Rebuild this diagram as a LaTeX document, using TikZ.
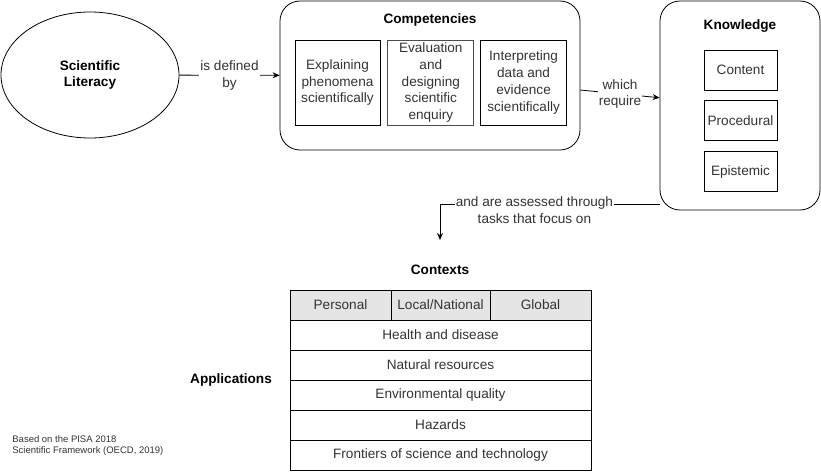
\documentclass[tikz,border=0pt]{standalone}
\usepackage{fontspec}
\setmainfont{Liberation Sans}
\usepackage{tikz}
\usetikzlibrary{arrows.meta}
\usetikzlibrary{shapes.geometric}
\usetikzlibrary{positioning}
\tikzset{
  bodyfont/.style={font=\fontsize{13.6}{16.7}\selectfont, text=black!80},
  title/.style={font=\fontsize{13.6}{16.7}\selectfont\bfseries, text=black},
  frame/.style={draw, rounded corners=20pt},
  box/.style={draw, bodyfont, align=center, inner sep=0pt},
  cell/.style={draw, bodyfont, minimum height=30pt, inner sep=0pt, outer sep=0pt},
  lbl/.style={fill=white, bodyfont, align=center, inner sep=1pt}
}

\begin{document}
\begin{tikzpicture}[x=1pt, y=-1pt,
      >={Stealth[length=7pt,width=6pt]},
      line width=0.8pt,
      node distance=10pt]

    \useasboundingbox (0,0) rectangle (821,471);

    % top row
    \node[draw, ellipse, minimum width=178pt, minimum height=126pt, title, align=center]
      (Literacy) at (90,75) {Scientific\\Literacy};

    \node[frame, minimum width=300pt, minimum height=149pt]
      (Competencies) at (430,75.5) {};
    \node[title]
      (CompTitle) at (430,20) {Competencies};
    \node[box, minimum width=85pt, minimum height=85pt]
      (Explaining) at (337.5,82.5) {Explaining\\phenomena\\scientifically};
    \node[box, draw=black!70, minimum width=86pt, minimum height=85pt]
      (Evaluation) [right=7pt of Explaining] {Evaluation\\and\\designing\\scientific\\enquiry};
    \node[box, minimum width=86pt, minimum height=85pt]
      (Interpreting) [right=6pt of Evaluation] {Interpreting\\data and\\evidence\\scientifically};

    \node[frame, minimum width=160pt, minimum height=209pt]
      (Knowledge) at (740,105.5) {};
    \node[title]
      (KnowTitle) at (740,26) {Knowledge};
    \node[box, minimum width=73pt, minimum height=40pt]
      (Content) at (740.5,70) {Content};
    \node[box, minimum width=73pt, minimum height=40pt]
      (Procedural) [below=of Content] {Procedural};
    \node[box, minimum width=73pt, minimum height=40pt]
      (Epistemic) [below=of Procedural] {Epistemic};

    % contexts table
    \node[title]
      (Contexts) at (440,270) {Contexts};
    \node[cell, fill=black!10, minimum width=101pt]
      (Personal) at (340.5,305) {Personal};
    \node[cell, fill=black!10, minimum width=99pt]
      (Local) [right=0pt of Personal] {Local/National};
    \node[cell, fill=black!10, minimum width=101pt]
      (Global) [right=0pt of Local] {Global};
    \node[cell, minimum width=301pt]
      (Health) at (440.5,335) {Health and disease};
    \node[cell, minimum width=301pt]
      (Natural) [below=0pt of Health] {Natural resources};
    \node[cell, minimum width=301pt]
      (Environmental) [below=0pt of Natural] {Environmental quality};
    \node[cell, minimum width=301pt]
      (Hazards) [below=0pt of Environmental] {Hazards};
    \node[cell, minimum width=301pt]
      (Frontiers) [below=0pt of Hazards] {Frontiers of science and technology};

    \node[title]
      (Applications) at (231,380) {Applications};
    \node[font=\fontsize{9.5}{11}\selectfont, text=black!80, align=left, anchor=west, inner sep=0pt]
      (Source) at (12,445.5) {Based on the PISA 2018\\Scientific Framework (OECD, 2019)};

    % connectors
    \coordinate (Turn) at (440,204);
    \coordinate (AssessEnd) at (440,240);

    \path[->]
      (Literacy) edge node[lbl] {is defined\\by} (Competencies)
      (Competencies) edge node[lbl] {which\\require} (Knowledge);
    \draw[->] (Knowledge.west |- Turn) -- node[lbl, pos=0.57, yshift=-6pt]
      {and are assessed through\\tasks that focus on} (Turn) -- (AssessEnd);

  \end{tikzpicture}
\end{document}
